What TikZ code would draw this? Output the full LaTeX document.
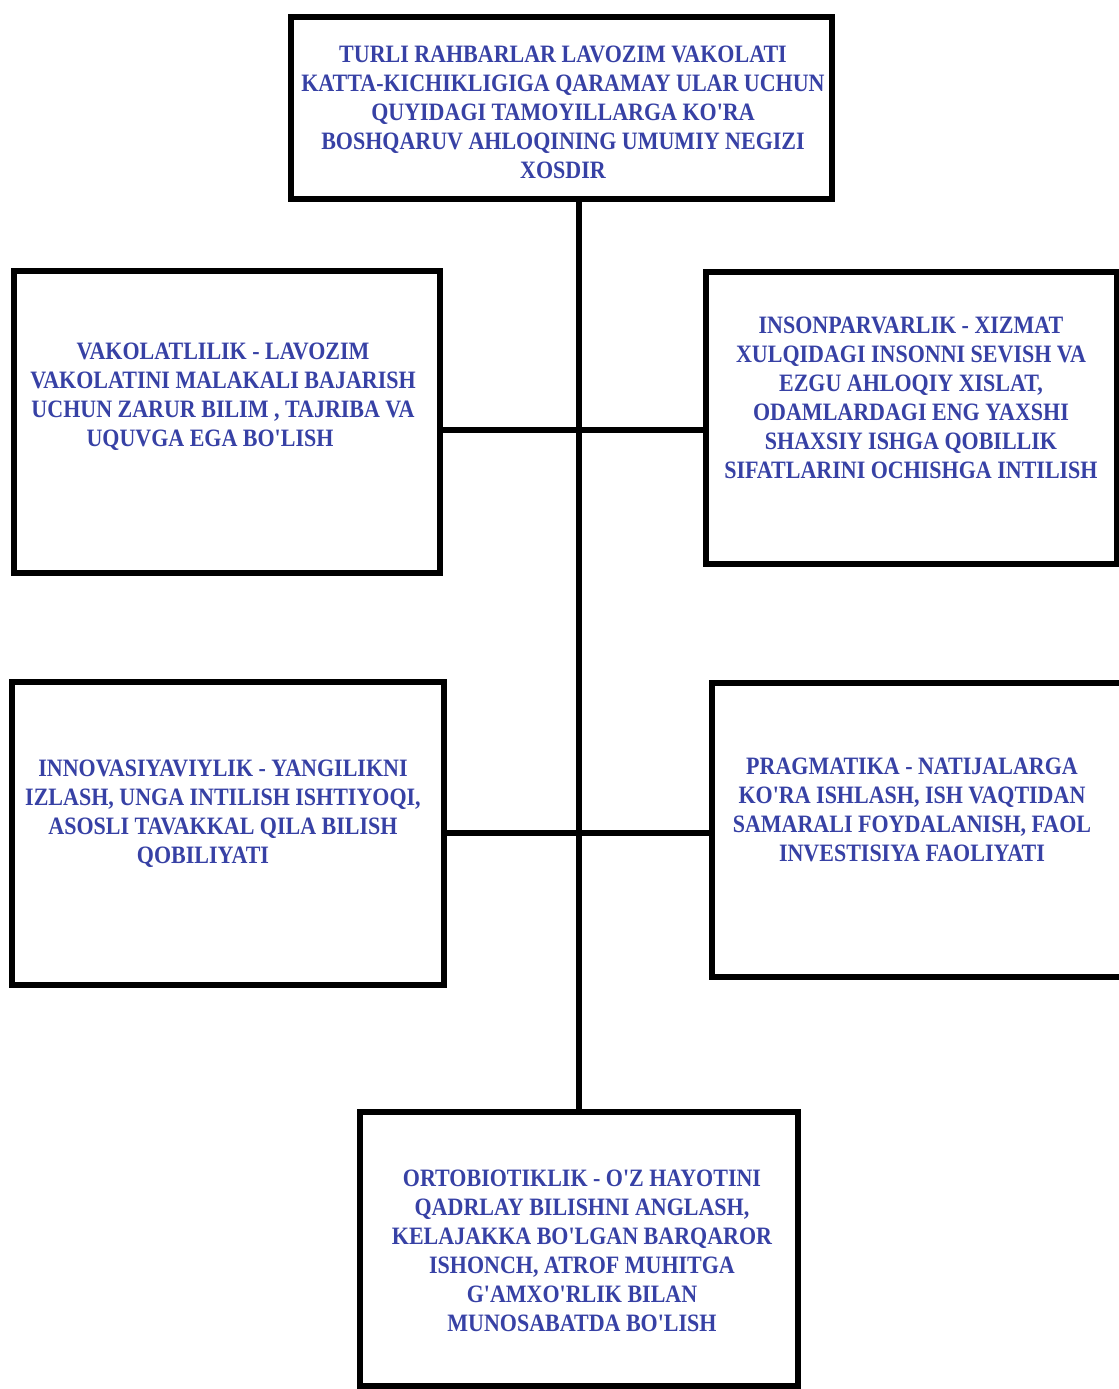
\documentclass[tikz,border=0pt]{standalone}
\usepackage{fontspec}
\newfontfamily\lab{Liberation Serif}[FakeStretch=0.88]
\definecolor{txtblue}{RGB}{55,65,165}
\begin{document}
\begin{tikzpicture}[x=0.5pt,y=-0.5pt,
  box/.style={draw=black,line width=3pt,fill=white,rectangle,inner sep=0pt},
  txt/.style={text=txtblue,font=\lab\bfseries\fontsize{12.5}{14.5}\selectfont,align=center,inner sep=0pt},
  conn/.style={draw=black,line width=2.6pt}]
\useasboundingbox (0,0) rectangle (1119,1389);
\fill[white] (0,0) rectangle (1119,1389);
% boxes
\node[box,minimum width=270.5pt,minimum height=91pt] (top) at (561.5,108) {};
\node[box,minimum width=213pt,minimum height=151pt] (l1) at (227,422) {};
\node[box,minimum width=205.5pt,minimum height=146pt] (r1) at (911,418) {};
\node[box,minimum width=216pt,minimum height=151.5pt] (l2) at (228,833.5) {};
\node[box,minimum width=210pt,minimum height=147pt] (r2) at (922,830) {};
\node[box,minimum width=219pt,minimum height=137pt] (bot) at (579,1249) {};
% connectors
\coordinate (sTop) at (579,200);
\coordinate (sBot) at (579,1111);
\coordinate (h1) at (579,430);
\coordinate (h2) at (579,833);
\draw[conn] (sTop) -- (sBot);
\draw[conn] (l1.east |- h1) -- (r1.west |- h1);
\draw[conn] (l2.east |- h2) -- (r2.west |- h2);
% texts
\node[txt] (ttop) at (563,112) {TURLI RAHBARLAR LAVOZIM VAKOLATI\\KATTA-KICHIKLIGIGA QARAMAY ULAR UCHUN\\QUYIDAGI TAMOYILLARGA KO'RA\\BOSHQARUV AHLOQINING UMUMIY NEGIZI\\XOSDIR};
\node[txt] (tl1) at (223,397) {VAKOLATLILIK - LAVOZIM\\VAKOLATINI MALAKALI BAJARISH\\UCHUN ZARUR BILIM , TAJRIBA VA\\UQUVGA EGA BO'LISH\hspace*{13pt}};
\node[txt] (tr1) at (911,398) {INSONPARVARLIK - XIZMAT\\XULQIDAGI INSONNI SEVISH VA\\EZGU AHLOQIY XISLAT,\\ODAMLARDAGI ENG YAXSHI\\SHAXSIY ISHGA QOBILLIK\\SIFATLARINI OCHISHGA INTILISH};
\node[txt] (tl2) at (223,814) {INNOVASIYAVIYLIK - YANGILIKNI\\IZLASH, UNGA INTILISH ISHTIYOQI,\\ASOSLI TAVAKKAL QILA BILISH\\QOBILIYATI\hspace*{20pt}};
\node[txt] (tr2) at (912,810) {PRAGMATIKA - NATIJALARGA\\KO'RA ISHLASH, ISH VAQTIDAN\\SAMARALI FOYDALANISH, FAOL\\INVESTISIYA FAOLIYATI};
\node[txt] (tbot) at (582,1251) {ORTOBIOTIKLIK - O'Z HAYOTINI\\QADRLAY BILISHNI ANGLASH,\\KELAJAKKA BO'LGAN BARQAROR\\ISHONCH, ATROF MUHITGA\\G'AMXO'RLIK BILAN\\MUNOSABATDA BO'LISH};
\end{tikzpicture}
\end{document}
